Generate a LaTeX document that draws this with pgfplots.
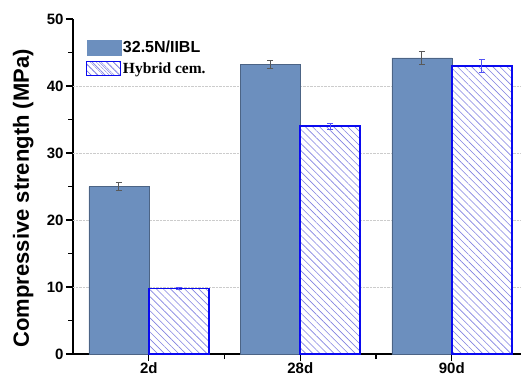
\documentclass[border=0pt]{standalone}
\usepackage{fontspec}
\setmainfont{Liberation Sans}
\newfontfamily\timesfont{Liberation Serif}
\usepackage{pgfplots}
\pgfplotsset{compat=1.18}
\usetikzlibrary{patterns.meta}
\definecolor{barblue}{RGB}{108,143,190}
\definecolor{hatchcol}{RGB}{130,130,225}
\definecolor{edgeblue}{RGB}{10,10,240}
\begin{document}
\begin{tikzpicture}
\useasboundingbox (-73pt,-26pt) rectangle (448pt,354pt);
\begin{axis}[
  scale only axis,
  width=448pt, height=335pt,
  at={(0pt,0pt)}, anchor=south west,
  xmin=-0.5, xmax=2.457,
  ymin=0, ymax=50,
  axis x line*=bottom, axis y line*=left,
  axis line style={line width=1.5pt},
  tick align=outside,
  major tick length=7pt, minor tick length=4.5pt,
  tick style={line width=1.3pt, black},
  minor tick style={line width=1.3pt, black},
  xtick={0,1,2}, xticklabels={2d,28d,90d},
  extra x ticks={0.5,1.5},
  extra x tick labels={},
  extra x tick style={major tick length=5pt},
  ytick={0,10,20,30,40,50},
  minor ytick={5,15,25,35,45},
  extra y ticks={10,20,30,40},
  extra y tick labels={},
  extra y tick style={grid=major, major tick length=0pt},
  grid style={densely dotted, line width=0.8pt, black!20},
  /pgf/number format/assume math mode=true,
  ticklabel style={font=\bfseries\fontsize{15}{17}\selectfont},
  yticklabel style={xshift=1pt},
  xticklabel style={yshift=2pt},
  ylabel={Compressive strength (MPa)},
  ylabel style={font=\bfseries\fontsize{22}{24}\selectfont, at={(axis description cs:-0.08,0.465)}},
  ybar,
  bar width=60pt,
  legend style={draw=none, fill=none, at={(axis description cs:0.022,0.945)}, anchor=north west,
    font=\bfseries\fontsize{16}{18}\selectfont, row sep=5pt,
    nodes={inner sep=1.5pt}},
  legend cell align=left,
]
\addplot[bar shift=-30pt, fill=barblue, draw=barblue!70!black,
  error bars/.cd, y dir=both, y explicit,
  error bar style={black!65, line width=0.7pt},
  error mark options={rotate=90, mark size=3pt, line width=0.7pt, black!65},
  /pgfplots/legend image code/.code={\fill[barblue] (0pt,-7.5pt) rectangle (34pt,7.5pt);}]
  coordinates {(0,25.0) +- (0,0.6) (1,43.2) +- (0,0.6) (2,44.2) +- (0,0.9)};
\addlegendentry{32.5N/IIBL}
\addplot[bar shift=30pt, draw=edgeblue, line width=1.6pt, fill=white,
  postaction={pattern={Lines[angle=-45, distance=5pt, line width=0.6pt]}, pattern color=hatchcol},
  error bars/.cd, y dir=both, y explicit,
  error bar style={edgeblue!70, line width=0.7pt},
  error mark options={rotate=90, mark size=3pt, line width=0.7pt, edgeblue!70},
  /pgfplots/legend image code/.code={\draw[draw=edgeblue, line width=1.4pt, fill=white,
    postaction={pattern={Lines[angle=-45, distance=4pt, line width=0.5pt]}, pattern color=hatchcol}] (0pt,-7pt) rectangle (34pt,7pt);}]
  coordinates {(0,9.8) +- (0,0.2) (1,34.0) +- (0,0.4) (2,43.0) +- (0,1.0)};
\addlegendentry{\timesfont\fontsize{15.5}{18}\selectfont Hybrid cem.}
\end{axis}
\end{tikzpicture}
\end{document}
